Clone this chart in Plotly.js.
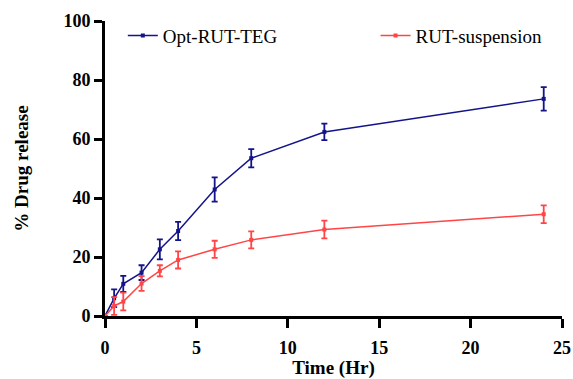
<!DOCTYPE html>
<html>
<head>
<meta charset="utf-8">
<script src="https://cdn.plot.ly/plotly-3.0.1.min.js"></script>
<style>html,body{margin:0;padding:0;background:#fff;}#chart{width:573px;height:379px;}</style>
</head>
<body>
<div id="chart"></div>
<script>
// Data
const timeHr = [0, 0.5, 1, 2, 3, 4, 6, 8, 12, 24];
const optRutTeg = [0, 6.0, 10.9, 14.7, 22.6, 28.8, 42.9, 53.5, 62.4, 73.6];
const optRutTegErr = [0, 3.0, 2.7, 2.5, 3.4, 3.1, 4.1, 3.1, 2.8, 4.0];
const rutSuspension = [0, 3.4, 4.9, 11.0, 15.3, 19.0, 22.6, 25.8, 29.3, 34.5];
const rutSuspensionErr = [0, 3.0, 3.0, 2.5, 1.9, 2.9, 2.9, 2.9, 3.0, 3.0];
const xTicks = [0, 5, 10, 15, 20, 25];
const yTicks = [0, 20, 40, 60, 80, 100];

const blue = '#14148a';
const red = '#ff4545';
const serif = 'Liberation Serif, Times New Roman, serif';

const traces = [
  {
    x: timeHr, y: optRutTeg, name: 'Opt-RUT-TEG', type: 'scatter', mode: 'lines+markers',
    line: {color: blue, width: 1.5},
    marker: {color: blue, size: 4, symbol: 'square'},
    error_y: {type: 'data', array: optRutTegErr, visible: true, color: blue, thickness: 1.8, width: 3},
    cliponaxis: false, legend: 'legend'
  },
  {
    x: timeHr, y: rutSuspension, name: 'RUT-suspension', type: 'scatter', mode: 'lines+markers',
    line: {color: red, width: 1.5},
    marker: {color: red, size: 4, symbol: 'square'},
    error_y: {type: 'data', array: rutSuspensionErr, visible: true, color: red, thickness: 1.8, width: 3},
    cliponaxis: false, legend: 'legend2'
  }
];

const tickFont = {family: serif, size: 18, color: '#000', weight: 'bold'};
const titleFont = {family: serif, size: 19, color: '#000', weight: 'bold'};
const legendFont = {family: serif, size: 19, color: '#000'};

const layout = {
  width: 573, height: 379,
  margin: {l: 105, r: 11, t: 21, b: 63},
  paper_bgcolor: '#fff', plot_bgcolor: '#fff',
  showlegend: true,
  legend: {
    orientation: 'h', x: 0.039, xanchor: 'left', y: 0.95, yanchor: 'middle',
    font: legendFont, bgcolor: 'rgba(0,0,0,0)', borderwidth: 0
  },
  legend2: {
    orientation: 'h', x: 0.592, xanchor: 'left', y: 0.95, yanchor: 'middle',
    font: legendFont, bgcolor: 'rgba(0,0,0,0)', borderwidth: 0
  },
  xaxis: {
    range: [0, 25], tickvals: xTicks, ticktext: xTicks.map(String),
    showgrid: false, zeroline: false, showline: true, linecolor: '#000', linewidth: 3,
    ticks: 'outside', ticklen: 9, tickwidth: 3, tickcolor: '#000',
    tickfont: tickFont, ticklabelstandoff: 4,
    title: {text: 'Time (Hr)', font: titleFont, standoff: 12}
  },
  yaxis: {
    range: [0, 100], tickvals: yTicks, ticktext: yTicks.map(String),
    showgrid: false, zeroline: false, showline: true, linecolor: '#000', linewidth: 3,
    ticks: 'outside', ticklen: 8, tickwidth: 3, tickcolor: '#000',
    tickfont: tickFont,
    title: {text: '% Drug release', font: titleFont, standoff: 30}
  }
};

Plotly.newPlot('chart', traces, layout, {displayModeBar: false, staticPlot: true});
</script>
</body>
</html>
